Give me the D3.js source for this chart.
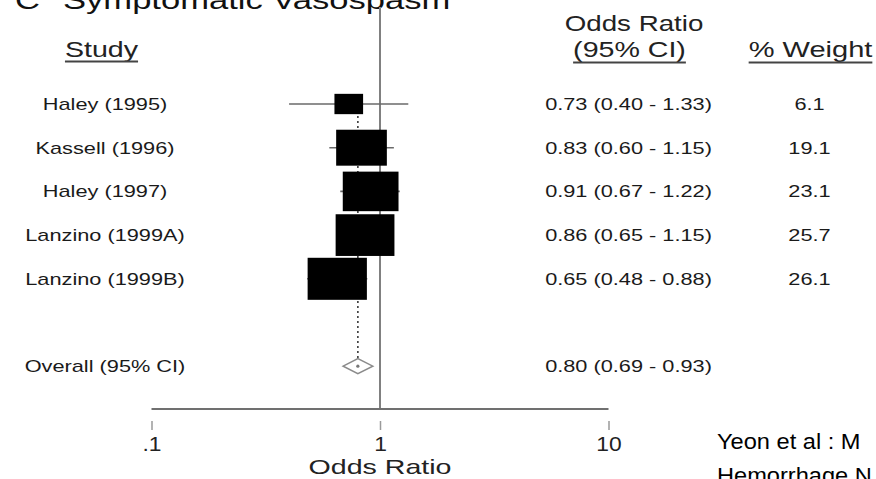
<!DOCTYPE html>
<html>
<head>
<meta charset="utf-8">
<script src="https://cdn.jsdelivr.net/npm/d3@7/dist/d3.min.js"></script>
<style>
  html, body { margin: 0; padding: 0; background: #fff; }
  svg { display: block; font-family: "Liberation Sans", Arial, sans-serif; }
</style>
</head>
<body>
<svg id="chart" width="876" height="479"></svg>
<script>
// ---- Data ----
const studies   = ["Haley (1995)", "Kassell (1996)", "Haley (1997)", "Lanzino (1999A)", "Lanzino (1999B)"];
const oddsRatio = [0.73, 0.83, 0.91, 0.86, 0.65];
const ciLow     = [0.40, 0.60, 0.67, 0.65, 0.48];
const ciHigh    = [1.33, 1.15, 1.22, 1.15, 0.88];
const weights   = [6.1, 19.1, 23.1, 25.7, 26.1];
const overallLabel = "Overall (95% CI)";
const overallOR  = 0.80;
const overallLow = 0.69;
const overallHigh = 0.93;
const tickValues = [0.1, 1, 10];
const tickLabels = [".1", "1", "10"];

// ---- Setup ----
const svg = d3.select("#chart");
const W = 876, H = 479;
svg.append("rect").attr("width", W).attr("height", H).attr("fill", "#fff");

const x = d3.scaleLog().domain([0.1, 10]).range([151.5, 608.5]);
const y = d3.scaleLinear().domain([0, 6]).range([104, 366.2]);
const boxW = d3.scaleSqrt().domain([0, 1]).range([0, 11.6]);
const boxAspect = 1.41;
const f2 = d3.format(".2f");

function stext(x0, y0, str, size, sx, anchor, fill) {
  return svg.append("text")
    .attr("transform", `translate(${x0},${y0}) scale(${sx},1)`)
    .attr("text-anchor", anchor)
    .style("font-size", size + "px")
    .attr("fill", fill)
    .text(str);
}
function underline(t, cx, yy, sx) {
  const w = t.node().getComputedTextLength() * sx;
  svg.append("line").attr("x1", cx - w / 2).attr("x2", cx + w / 2)
    .attr("y1", yy).attr("y2", yy)
    .attr("stroke", "#444").attr("stroke-width", 1.8);
}

// ---- Title (cut at the top edge, as in the reference) ----
stext(15, 9, "C", 26, 1.33, "start", "#111");
stext(63, 9, "Symptomatic Vasospasm", 26, 1.33, "start", "#111");

// ---- Headers ----
const tStudy = stext(101.5, 56.5, "Study", 22, 1.3, "middle", "#222");
underline(tStudy, 101.5, 61.5, 1.3);
stext(634, 31, "Odds Ratio", 22, 1.26, "middle", "#222");
const tCI = stext(629.5, 57, "(95% CI)", 22, 1.3, "middle", "#222");
underline(tCI, 629.5, 62.5, 1.3);
const tW = stext(810.5, 57, "% Weight", 22, 1.32, "middle", "#222");
underline(tW, 810.5, 62.5, 1.32);

// ---- Reference line at OR = 1 ----
svg.append("line")
  .attr("x1", x(1)).attr("x2", x(1))
  .attr("y1", 7).attr("y2", 409)
  .attr("stroke", "#808080").attr("stroke-width", 2);

// ---- Overall dotted line ----
svg.append("line")
  .attr("x1", x(overallOR)).attr("x2", x(overallOR))
  .attr("y1", y(0) - 8).attr("y2", y(6))
  .attr("stroke", "#444").attr("stroke-width", 1.7)
  .attr("stroke-dasharray", "2,3");

// ---- CI lines ----
const rows = studies.map((s, i) => ({ s, i, or: oddsRatio[i], lo: ciLow[i], hi: ciHigh[i], w: weights[i] }));
svg.selectAll("line.ci").data(rows).join("line")
  .attr("class", "ci")
  .attr("x1", d => x(d.lo)).attr("x2", d => x(d.hi))
  .attr("y1", d => y(d.i)).attr("y2", d => y(d.i))
  .attr("stroke", "#6a6a6a").attr("stroke-width", 1.6);

// ---- Boxes ----
svg.selectAll("rect.box").data(rows).join("rect")
  .attr("class", "box")
  .attr("x", d => x(d.or) - boxW(d.w) / 2)
  .attr("y", d => y(d.i) - boxW(d.w) / boxAspect / 2)
  .attr("width", d => boxW(d.w))
  .attr("height", d => boxW(d.w) / boxAspect)
  .attr("fill", "#000");

// ---- Overall diamond ----
const dy = 7.5, yo = y(6);
svg.append("path")
  .attr("d", `M${x(overallLow)},${yo} L${x(overallOR)},${yo - dy} L${x(overallHigh)},${yo} L${x(overallOR)},${yo + dy} Z`)
  .attr("fill", "#fff").attr("stroke", "#8a8a8a").attr("stroke-width", 1.5);
svg.append("circle").attr("cx", x(overallOR)).attr("cy", yo).attr("r", 1.6).attr("fill", "#777");

// ---- Row texts ----
rows.forEach(d => {
  stext(105, y(d.i) + 5.8, d.s, 16, 1.36, "middle", "#1a1a1a");
  stext(628.5, y(d.i) + 5.8, `${f2(d.or)} (${f2(d.lo)} - ${f2(d.hi)})`, 16, 1.36, "middle", "#1a1a1a");
  stext(809.5, y(d.i) + 5.8, d.w.toFixed(1), 16, 1.36, "middle", "#1a1a1a");
});
stext(105, y(6) + 5.8, overallLabel, 16, 1.36, "middle", "#1a1a1a");
stext(628.5, y(6) + 5.8, `${f2(overallOR)} (${f2(overallLow)} - ${f2(overallHigh)})`, 16, 1.36, "middle", "#1a1a1a");

// ---- X axis ----
svg.append("line")
  .attr("x1", x(0.1)).attr("x2", x(10))
  .attr("y1", 409).attr("y2", 409)
  .attr("stroke", "#707070").attr("stroke-width", 2);

const axis = d3.axisBottom(x).tickValues(tickValues)
  .tickFormat((d, i) => tickLabels[i]).tickSize(9).tickPadding(7);
const ga = svg.append("g").attr("transform", "translate(0,421)").call(axis);
ga.select(".domain").remove();
ga.selectAll(".tick line").attr("stroke", "#9a9a9a").attr("stroke-width", 1.5);
ga.selectAll(".tick text")
  .attr("fill", "#222")
  .style("font-size", "19.5px")
  .style("font-family", "\"Liberation Sans\", Arial, sans-serif")
  .attr("transform", "scale(1.17,1)");

stext(x(1), 474, "Odds Ratio", 20, 1.43, "middle", "#222");

// ---- Source text (cut at right/bottom edge, as in the reference) ----
stext(717, 449, "Yeon et al : M", 22.5, 1.05, "start", "#000");
stext(717, 483, "Hemorrhage N", 22.5, 1.05, "start", "#000");
</script>
</body>
</html>
